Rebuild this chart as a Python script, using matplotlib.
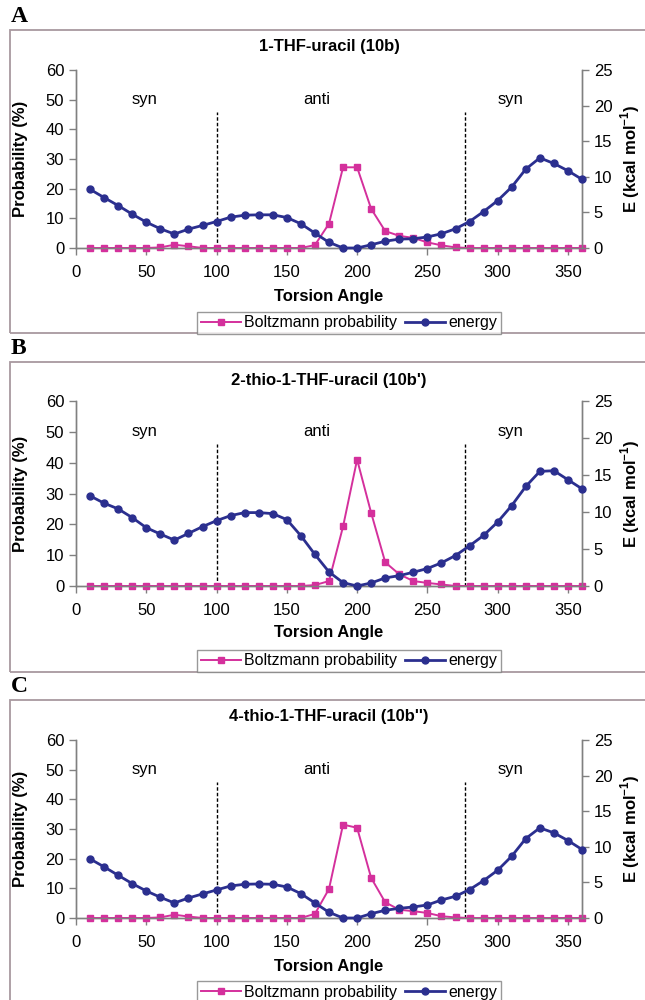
import matplotlib
matplotlib.use("Agg")
import matplotlib.pyplot as plt
from matplotlib.lines import Line2D
from matplotlib.patches import Rectangle

plt.rcParams['font.family'] = ['Liberation Sans', 'DejaVu Sans']
plt.rcParams['mathtext.fontset'] = 'custom'
plt.rcParams['mathtext.bf'] = 'Liberation Sans:bold'

# torsion angle of every computed point
angles = [10, 20, 30, 40, 50, 60, 70, 80, 90, 100, 110, 120, 130, 140, 150, 160, 170, 180,
          190, 200, 210, 220, 230, 240, 250, 260, 270, 280, 290, 300, 310, 320, 330, 340, 350, 360]

# panel A: 1-THF-uracil (10b)
prob_a = [0, 0, 0, 0, 0, 0.2, 1.1, 0.6, 0, 0, 0, 0, 0, 0, 0, 0, 1.0, 8.2,
          27.2, 27.2, 13.2, 5.7, 4.1, 3.4, 1.9, 0.9, 0.2, 0, 0, 0, 0, 0, 0, 0, 0, 0]
energy_a = [8.24, 7.08, 5.96, 4.75, 3.63, 2.70, 1.96, 2.65, 3.17, 3.72, 4.33, 4.61, 4.66, 4.66, 4.28, 3.40, 2.09, 0.79,
            0, 0, 0.45, 0.95, 1.25, 1.30, 1.55, 2.0, 2.7, 3.72, 5.12, 6.66, 8.57, 11.08, 12.66, 11.87, 10.85, 9.64]

# panel B: 2-thio-1-THF-uracil (10b')
prob_b = [0, 0, 0, 0, 0, 0, 0, 0, 0, 0, 0, 0, 0, 0, 0, 0, 0.3, 1.6,
          19.3, 41.0, 23.7, 7.7, 3.8, 1.6, 1.0, 0.5, 0, 0, 0, 0, 0, 0, 0, 0, 0, 0]
energy_b = [12.18, 11.19, 10.42, 9.24, 7.88, 7.02, 6.20, 7.11, 8.02, 8.83, 9.51, 9.92, 9.92, 9.78, 8.97, 6.79, 4.26, 1.90,
            0.45, 0, 0.41, 1.09, 1.40, 1.86, 2.36, 3.13, 4.12, 5.43, 6.84, 8.65, 10.87, 13.45, 15.49, 15.58, 14.36, 13.13]

# panel C: 4-thio-1-THF-uracil (10b'')
prob_c = [0, 0, 0, 0, 0, 0.2, 1.1, 0.5, 0, 0, 0, 0, 0, 0, 0, 0, 1.4, 9.8,
          31.5, 30.4, 13.5, 5.3, 2.8, 2.3, 1.7, 0.6, 0.2, 0, 0, 0, 0, 0, 0, 0, 0, 0]
energy_c = [8.30, 7.18, 6.00, 4.83, 3.80, 2.91, 2.11, 2.81, 3.38, 3.94, 4.50, 4.74, 4.78, 4.74, 4.36, 3.42, 2.11, 0.80,
            0, 0, 0.61, 1.08, 1.36, 1.55, 1.83, 2.53, 3.05, 3.99, 5.25, 6.71, 8.68, 11.16, 12.66, 11.96, 10.88, 9.62]

titles = ["1-THF-uracil (10b)", "2-thio-1-THF-uracil (10b')", "4-thio-1-THF-uracil (10b'')"]
letters = ["A", "B", "C"]
syn_anti_bounds = [100, 277]

W, H = 645, 1000
PINK = '#d4309c'
BLUE = '#2b2f8f'
GREY = '#808080'
BOX = '#a8999f'
FS = 12

fig = plt.figure(figsize=(W / 100, H / 100), dpi=100)


def fx(x):
    return x / W


def fy(y):
    return 1 - y / H


def panel(letter, title, prob, energy, box_top, box_bot, title_y, top, zero, xlab_y, leg_y):
    # frame around the panel (runs off the right edge like the original)
    fig.patches.append(Rectangle((fx(10), fy(box_bot)), fx(660) - fx(10), fy(box_top) - fy(box_bot),
                                 transform=fig.transFigure, fill=False, edgecolor=BOX, lw=1.3,
                                 clip_on=False))
    fig.text(fx(11), fy(box_top - 3), letter, family='Liberation Serif', weight='bold',
             fontsize=17, va='bottom', ha='left')
    fig.text(fx(329), fy(title_y), title, weight='bold', fontsize=FS, ha='center', va='center')

    left, right = 76, 582
    ax = fig.add_axes([fx(left), fy(zero), fx(right) - fx(left), fy(top) - fy(zero)])
    ax.patch.set_alpha(0)
    ax2 = ax.twinx()

    ax.set_xlim(0, 360)
    ax.set_ylim(0, 60)
    ax2.set_ylim(0, 25)
    ax.set_xticks(range(0, 351, 50))
    ax.set_yticks(range(0, 61, 10))
    ax2.set_yticks(range(0, 26, 5))

    for a in (ax, ax2):
        a.spines['top'].set_visible(False)
        for s in ('left', 'right', 'bottom'):
            a.spines[s].set_color(GREY)
            a.spines[s].set_linewidth(1.0)
        a.tick_params(colors=GREY, labelcolor='black', labelsize=FS, length=5, width=1.0)
    ax.tick_params(axis='x', pad=7)

    for b in syn_anti_bounds:
        ax.plot([b, b], [0, 46], ls=(0, (2.5, 1.5)), color='black', lw=1.0, zorder=1)
    ax.text(49, 50, 'syn', ha='center', va='center', fontsize=FS)
    ax.text(171, 50, 'anti', ha='center', va='center', fontsize=FS)
    ax.text(309, 50, 'syn', ha='center', va='center', fontsize=FS)

    ax.plot(angles, prob, color=PINK, lw=1.4, marker='s', ms=4.2, mec=PINK, mfc=PINK,
            zorder=3, clip_on=False)
    ax2.plot(angles, energy, color=BLUE, lw=2.0, marker='o', ms=5, mec=BLUE, mfc=BLUE,
             zorder=3, clip_on=False)

    mid = (top + zero) / 2
    fig.text(fx(21), fy(mid), 'Probability (%)', rotation=90, weight='bold', fontsize=FS,
             ha='center', va='center')
    fig.text(fx(630), fy(mid), r'E (kcal mol$^{\mathbf{-1}}$)', rotation=90, weight='bold',
             fontsize=FS, ha='center', va='center')
    fig.text(fx(329), fy(xlab_y), 'Torsion Angle', weight='bold', fontsize=FS,
             ha='center', va='center')

    handles = [Line2D([], [], color=PINK, lw=1.4, marker='s', ms=4.2, mfc=PINK, mec=PINK),
               Line2D([], [], color=BLUE, lw=2.0, marker='o', ms=5, mfc=BLUE, mec=BLUE)]
    leg = fig.legend(handles, ['Boltzmann probability', 'energy'], loc='center',
                     bbox_to_anchor=(fx(349), fy(leg_y)), ncol=2, fontsize=11.5,
                     frameon=True, fancybox=False, edgecolor=GREY, handlelength=2.5,
                     handletextpad=0.2, columnspacing=0.5, borderpad=0.25)
    leg.get_frame().set_linewidth(1.0)


panel(letters[0], titles[0], prob_a, energy_a, 30, 333, 46, 70, 248, 296, 323)
panel(letters[1], titles[1], prob_b, energy_b, 362, 672, 381, 401, 586, 632, 661)
panel(letters[2], titles[2], prob_c, energy_c, 700, 1012, 717, 740, 918, 966, 992)

fig.savefig('out.png', dpi=100)
